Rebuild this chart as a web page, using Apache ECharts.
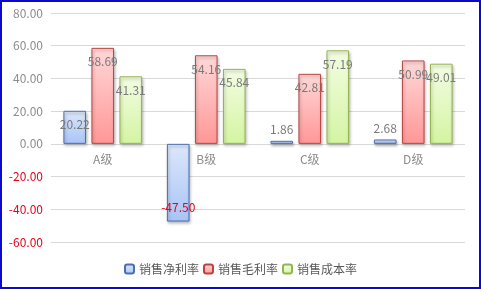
<!DOCTYPE html>
<html><head><meta charset="utf-8">
<script src="https://cdn.jsdelivr.net/npm/echarts@6/dist/echarts.min.js"></script>
<style>html,body{margin:0;padding:0;background:#fff}#c{width:481px;height:289px;box-sizing:border-box;border:2px solid #0a0ac8;}</style>
</head><body><div id="c"></div>
<script>
var categories = ['A级','B级','C级','D级'];
var seriesNames = ['销售净利率','销售毛利率','销售成本率'];
var netMargin = [20.22, -47.50, 1.86, 2.68];
var grossMargin = [58.69, 54.16, 42.81, 50.99];
var costRate = [41.31, 45.84, 57.19, 49.01];
var yMin = -60, yMax = 80, yStep = 20;

var chart = echarts.init(document.getElementById('c'));
function grad(a,b){return new echarts.graphic.LinearGradient(0,0,0,1,[{offset:0,color:a},{offset:1,color:b}]);}
var styles = [
  {fill: grad('#dce7fa','#a8c4f6'), border:'#4a6fae'},
  {fill: grad('#ffd8d8','#ff9797'), border:'#b84542'},
  {fill: grad('#f3fde3','#d4f4a2'), border:'#94b451'}
];
function mkData(arr){
  return arr.map(function(v){
    var pos, dist = 8, col = '#7a7a7a';
    if (Math.abs(v) < 8) { pos = v >= 0 ? 'top' : 'bottom'; dist = 5; }
    else pos = v >= 0 ? 'insideTop' : 'insideBottom';
    if (v < 0) col = '#e8001c';
    return {value: v, label: {position: pos, distance: dist, color: col}};
  });
}
var datasets = [netMargin, grossMargin, costRate];
var series = datasets.map(function(d,i){
  return {
    name: seriesNames[i], type:'bar', data: mkData(d),
    barGap:'24%', barCategoryGap:'24%',
    itemStyle:{color:styles[i].fill, borderColor:styles[i].border, borderWidth:1,
      shadowColor:'rgba(0,0,0,0.3)', shadowBlur:3, shadowOffsetX:1, shadowOffsetY:2},
    label:{show:true, fontSize:12, fontFamily:'Noto Sans CJK SC', formatter:function(p){return p.value.toFixed(2);}}
  };
});
var option = {
  animation:false,
  grid:{left:49, right:14, top:11, bottom:45, containLabel:false},
  legend:{bottom:7, left:'center', itemWidth:9, itemHeight:9, itemGap:4,
    textStyle:{color:'#595959', fontSize:12, fontFamily:'Noto Sans CJK SC'}, data:seriesNames},
  xAxis:{type:'category', data:categories, offset:0,
    axisLine:{show:false}, axisTick:{show:false},
    axisLabel:{color:'#8c8c8c', fontSize:12, margin:10, fontFamily:'Noto Sans CJK SC'}},
  yAxis:{type:'value', min:yMin, max:yMax, interval:yStep,
    axisLine:{show:false}, axisTick:{show:false},
    splitLine:{lineStyle:{color:'#d9d9d9'}},
    axisLabel:{fontSize:12, margin:8, fontFamily:'Noto Sans CJK SC',
      formatter:function(v){return v.toFixed(2);},
      color:function(v){return v < 0 ? '#e8001c' : '#8c8c8c';}}},
  series: series
};
chart.setOption(option);
var p0 = chart.convertToPixel({yAxisIndex:0}, 0);
var pMin = chart.convertToPixel({yAxisIndex:0}, yMin);
chart.setOption({xAxis:{offset: -(pMin - p0)}});
</script></body></html>
